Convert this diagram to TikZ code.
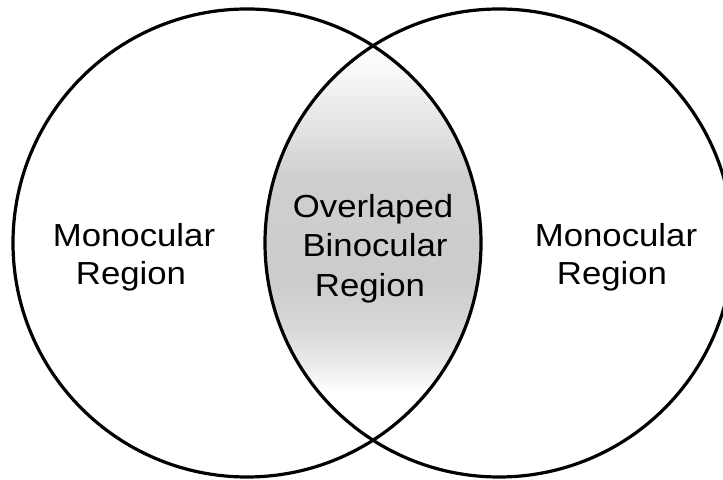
\documentclass[tikz,border=0pt]{standalone}
\usepackage{fontspec}
\setmainfont{Liberation Sans}
\pgfdeclareverticalshading{lensshade}{100bp}{color(0bp)=(white); color(31bp)=(white); color(34bp)=(black!7); color(38.75bp)=(black!15); color(45bp)=(black!20); color(57.5bp)=(black!19); color(65bp)=(black!10); color(71bp)=(black!3); color(75bp)=(white); color(100bp)=(white)}
\begin{document}
\begin{tikzpicture}[x=1bp,y=1bp,
  ring/.style={draw=black,line width=3.2bp},
  lbl/.style={anchor=base,inner sep=0pt,xscale=1.09,transform shape,
    font=\fontsize{32}{39}\selectfont}]
\useasboundingbox (0,0) rectangle (723,480);
\clip (0,0) rectangle (723,480);
\fill[white] (0,0) rectangle (723,480);
\coordinate (cl) at (247,237);
\coordinate (cr) at (499,237);
\begin{scope}
  \clip (cl) circle (234);
  \clip (cr) circle (234);
  \shade[shading=lensshade] (200,40) rectangle (550,440);
\end{scope}
\draw[ring] (cl) circle (234);
\draw[ring] (cr) circle (234);
\node[lbl] (lm) at (134,233) {Monocular};
\node[lbl] (lr) at (131,195) {Region};
\node[lbl] (mo) at (373,262) {Overlaped};
\node[lbl] (mb) at (375,223) {Binocular};
\node[lbl] (mr) at (370,183) {Region};
\node[lbl] (rm) at (616,233) {Monocular};
\node[lbl] (rr) at (612,195) {Region};
\end{tikzpicture}
\end{document}
